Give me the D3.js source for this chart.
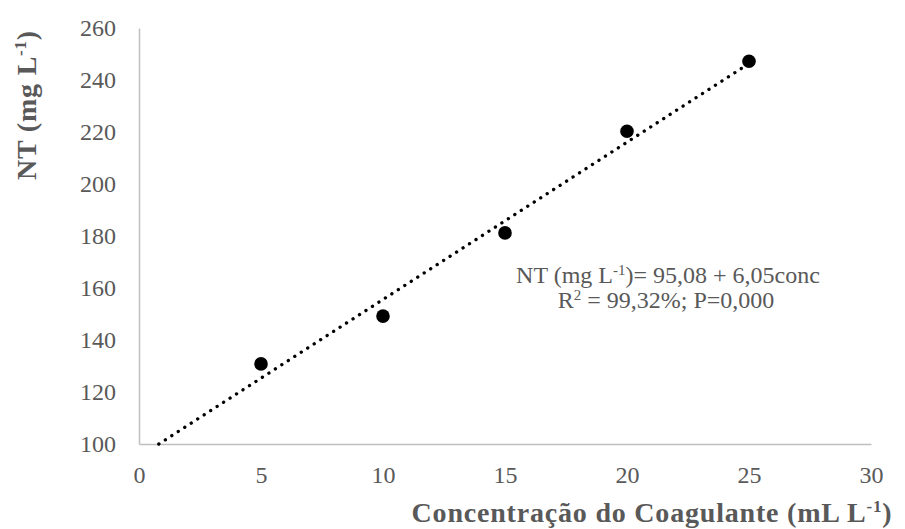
<!DOCTYPE html>
<html>
<head>
<meta charset="utf-8">
<script src="https://cdn.jsdelivr.net/npm/d3@7"></script>
<style>
  html, body { margin: 0; padding: 0; background: #fff; }
  svg { display: block; }
  text { font-family: "Liberation Serif", "DejaVu Serif", serif; fill: #595959; }
</style>
</head>
<body>
<svg id="chart" width="905" height="529"></svg>
<script>
// Data
const concentrations = [5, 10, 15, 20, 25];
const ntValues = [130.8, 149.2, 181.2, 220.3, 247.2];
const xTicks = [0, 5, 10, 15, 20, 25, 30];
const yTicks = [100, 120, 140, 160, 180, 200, 220, 240, 260];
const trendIntercept = 95.08;
const trendSlope = 6.05;
const trendRange = [(100 - 95.08) / 6.05, 25];

const svg = d3.select("#chart");
const x = d3.scaleLinear().domain([0, 30]).range([139, 871]);
const y = d3.scaleLinear().domain([100, 260]).range([444, 28]);

// Axes
const xAxis = d3.axisBottom(x).tickValues(xTicks).tickSize(0).tickPadding(0);
const yAxis = d3.axisLeft(y).tickValues(yTicks).tickSize(0).tickPadding(0);

const gx = svg.append("g").attr("transform", `translate(0,${y(100)})`).call(xAxis);
gx.select(".domain").attr("stroke", "#bfbfbf").attr("stroke-width", 1.5);
gx.selectAll(".tick text")
  .attr("font-size", 24).attr("font-family", "Liberation Serif")
  .attr("fill", "#595959").attr("dy", 0).attr("y", 39);

const gy = svg.append("g").attr("transform", `translate(${x(0)},0)`).call(yAxis);
gy.select(".domain").attr("stroke", "#bfbfbf").attr("stroke-width", 1.5);
gy.selectAll(".tick text")
  .attr("font-size", 24).attr("font-family", "Liberation Serif")
  .attr("fill", "#595959").attr("x", -23).attr("dy", "0.33em");

// Trendline
const trendData = trendRange.map(c => [c, trendIntercept + trendSlope * c]);
svg.append("path")
  .datum(trendData)
  .attr("d", d3.line().x(d => x(d[0])).y(d => y(d[1])))
  .attr("fill", "none")
  .attr("stroke", "#000")
  .attr("stroke-width", 3.3)
  .attr("stroke-linecap", "round")
  .attr("stroke-dasharray", "0.1 7.6");

// Points
svg.append("g").selectAll("circle")
  .data(concentrations)
  .join("circle")
  .attr("cx", d => x(d))
  .attr("cy", (d, i) => y(ntValues[i]))
  .attr("r", 6.8)
  .attr("fill", "#000");

// Equation
const eq = svg.append("text").attr("text-anchor", "middle").attr("font-size", 24);
const l1 = eq.append("tspan").attr("x", 668).attr("y", 283);
l1.append("tspan").text("NT (mg L");
l1.append("tspan").attr("font-size", 15).attr("dy", -8).text("-1");
l1.append("tspan").attr("dy", 8).text(")= 95,08 + 6,05conc");
const l2 = eq.append("tspan").attr("x", 666).attr("y", 308);
l2.append("tspan").text("R");
l2.append("tspan").attr("font-size", 15).attr("dy", -8).text("2");
l2.append("tspan").attr("dy", 8).text(" = 99,32%; P=0,000");

// Axis titles
const xt = svg.append("text").attr("x", 652).attr("y", 522)
  .attr("text-anchor", "middle").attr("font-size", 28).attr("font-weight", "bold")
  .attr("letter-spacing", 0.8);
xt.append("tspan").text("Concentração do Coagulante (mL L");
xt.append("tspan").attr("font-size", 17).attr("dy", -10).text("-1");
xt.append("tspan").attr("dy", 10).text(")");

const yt = svg.append("text").attr("transform", "translate(36,105) rotate(-90)")
  .attr("text-anchor", "middle").attr("font-size", 28).attr("font-weight", "bold")
  .attr("letter-spacing", 0.8);
yt.append("tspan").text("NT (mg L");
yt.append("tspan").attr("font-size", 17).attr("dy", -10).text("-1");
yt.append("tspan").attr("dy", 10).text(")");
</script>
</body>
</html>
